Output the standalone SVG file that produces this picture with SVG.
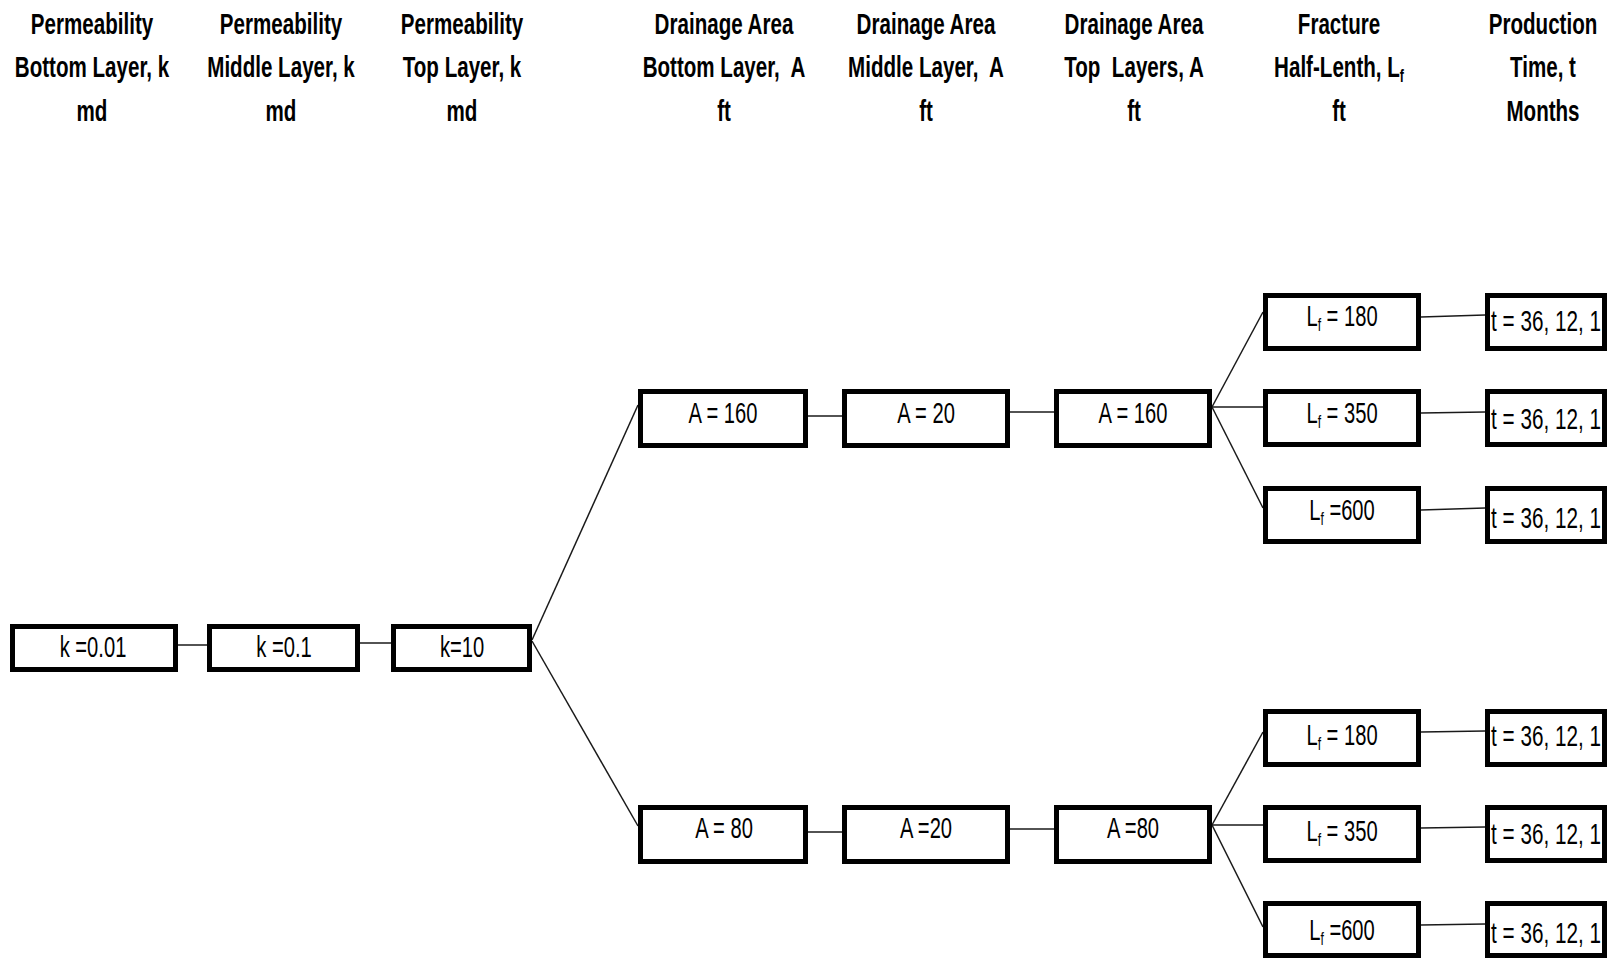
<svg xmlns="http://www.w3.org/2000/svg" width="1613" height="960" viewBox="0 0 1613 960">
<style>
.h{font-family:"Liberation Sans",Arial,sans-serif;font-weight:bold;font-size:30px;text-anchor:middle;fill:#000}
.b{font-family:"Liberation Sans",Arial,sans-serif;font-size:30px;text-anchor:middle;fill:#000}
.box{fill:#fff;stroke:#000;stroke-width:5}
.c line{stroke:#1a1a1a;stroke-width:1.5}
.sub{font-size:18px}
</style>
<rect width="1613" height="960" fill="#fff"/>
<g id="headers">
<text class="h" transform="translate(92,34) scale(0.686,1)">Permeability</text>
<text class="h" transform="translate(92,77) scale(0.686,1)">Bottom Layer, k</text>
<text class="h" transform="translate(92,121) scale(0.686,1)">md</text>
<text class="h" transform="translate(281,34) scale(0.686,1)">Permeability</text>
<text class="h" transform="translate(281,77) scale(0.686,1)">Middle Layer, k</text>
<text class="h" transform="translate(281,121) scale(0.686,1)">md</text>
<text class="h" transform="translate(462,34) scale(0.686,1)">Permeability</text>
<text class="h" transform="translate(462,77) scale(0.686,1)">Top Layer, k</text>
<text class="h" transform="translate(462,121) scale(0.686,1)">md</text>
<text class="h" transform="translate(724,34) scale(0.686,1)">Drainage Area</text>
<text class="h" transform="translate(724,77) scale(0.686,1)">Bottom Layer,&#160; A</text>
<text class="h" transform="translate(724,121) scale(0.686,1)">ft</text>
<text class="h" transform="translate(926,34) scale(0.686,1)">Drainage Area</text>
<text class="h" transform="translate(926,77) scale(0.686,1)">Middle Layer,&#160; A</text>
<text class="h" transform="translate(926,121) scale(0.686,1)">ft</text>
<text class="h" transform="translate(1134,34) scale(0.686,1)">Drainage Area</text>
<text class="h" transform="translate(1134,77) scale(0.686,1)">Top&#160; Layers, A</text>
<text class="h" transform="translate(1134,121) scale(0.686,1)">ft</text>
<text class="h" transform="translate(1339,34) scale(0.686,1)">Fracture</text>
<text class="h" transform="translate(1339,77) scale(0.686,1)">Half-Lenth, L<tspan class="sub" dy="5">f</tspan></text>
<text class="h" transform="translate(1339,121) scale(0.686,1)">ft</text>
<text class="h" transform="translate(1543,34) scale(0.686,1)">Production</text>
<text class="h" transform="translate(1543,77) scale(0.686,1)">Time, t</text>
<text class="h" transform="translate(1543,121) scale(0.686,1)">Months</text>
</g>
<g id="connectors" class="c">
<line x1="178" y1="645" x2="207" y2="645"/>
<line x1="360" y1="643" x2="391" y2="643"/>
<line x1="532" y1="640" x2="638" y2="405"/>
<line x1="532" y1="641" x2="638" y2="826"/>
<line x1="808" y1="416" x2="842" y2="416"/>
<line x1="1010" y1="412" x2="1054" y2="412"/>
<line x1="808" y1="832" x2="842" y2="832"/>
<line x1="1010" y1="829" x2="1055" y2="829"/>
<line x1="1212" y1="407" x2="1263" y2="312"/>
<line x1="1212" y1="407" x2="1263" y2="407"/>
<line x1="1212" y1="407" x2="1263" y2="508"/>
<line x1="1421" y1="317" x2="1485" y2="315"/>
<line x1="1421" y1="413" x2="1485" y2="412"/>
<line x1="1421" y1="510" x2="1485" y2="508"/>
<line x1="1212" y1="825" x2="1263" y2="732"/>
<line x1="1212" y1="825" x2="1263" y2="825"/>
<line x1="1212" y1="825" x2="1263" y2="927"/>
<line x1="1421" y1="732" x2="1485" y2="731"/>
<line x1="1421" y1="828" x2="1485" y2="827"/>
<line x1="1421" y1="925" x2="1485" y2="924"/>
</g>
<g id="k1"><rect class="box" x="12.5" y="626.5" width="163" height="43"/><text class="b" transform="translate(93,657) scale(0.672,1)">k =0.01</text></g>
<g id="k2"><rect class="box" x="209.5" y="626.5" width="148" height="43"/><text class="b" transform="translate(284,657) scale(0.672,1)">k =0.1</text></g>
<g id="k3"><rect class="box" x="393.5" y="626.5" width="136" height="43"/><text class="b" transform="translate(462,657) scale(0.672,1)">k=10</text></g>
<g id="a1u"><rect class="box" x="640.5" y="391.5" width="165" height="54"/><text class="b" transform="translate(723,423) scale(0.672,1)">A = 160</text></g>
<g id="a2u"><rect class="box" x="844.5" y="391.5" width="163" height="54"/><text class="b" transform="translate(926,423) scale(0.672,1)">A = 20</text></g>
<g id="a3u"><rect class="box" x="1056.5" y="391.5" width="153" height="54"/><text class="b" transform="translate(1133,423) scale(0.672,1)">A = 160</text></g>
<g id="a1l"><rect class="box" x="640.5" y="807.5" width="165" height="54"/><text class="b" transform="translate(724,838) scale(0.672,1)">A = 80</text></g>
<g id="a2l"><rect class="box" x="844.5" y="807.5" width="163" height="54"/><text class="b" transform="translate(926,838) scale(0.672,1)">A =20</text></g>
<g id="a3l"><rect class="box" x="1056.5" y="807.5" width="153" height="54"/><text class="b" transform="translate(1133,838) scale(0.672,1)">A =80</text></g>
<g id="lf1u"><rect class="box" x="1265.5" y="295.5" width="153" height="53"/><text class="b" transform="translate(1342,326) scale(0.672,1)">L<tspan class="sub" dy="5">f</tspan><tspan dy="-5"> = 180</tspan></text></g>
<g id="lf2u"><rect class="box" x="1265.5" y="391.5" width="153" height="53"/><text class="b" transform="translate(1342,423) scale(0.672,1)">L<tspan class="sub" dy="5">f</tspan><tspan dy="-5"> = 350</tspan></text></g>
<g id="lf3u"><rect class="box" x="1265.5" y="488.5" width="153" height="53"/><text class="b" transform="translate(1342,520) scale(0.672,1)">L<tspan class="sub" dy="5">f</tspan><tspan dy="-5"> =600</tspan></text></g>
<g id="lf1l"><rect class="box" x="1265.5" y="711.5" width="153" height="53"/><text class="b" transform="translate(1342,745) scale(0.672,1)">L<tspan class="sub" dy="5">f</tspan><tspan dy="-5"> = 180</tspan></text></g>
<g id="lf2l"><rect class="box" x="1265.5" y="807.5" width="153" height="53"/><text class="b" transform="translate(1342,841) scale(0.672,1)">L<tspan class="sub" dy="5">f</tspan><tspan dy="-5"> = 350</tspan></text></g>
<g id="lf3l"><rect class="box" x="1265.5" y="903.5" width="153" height="52"/><text class="b" transform="translate(1342,940) scale(0.672,1)">L<tspan class="sub" dy="5">f</tspan><tspan dy="-5"> =600</tspan></text></g>
<g id="t1u"><rect class="box" x="1487.5" y="295.5" width="117" height="53"/><text class="b" transform="translate(1546,331) scale(0.69,1)">t = 36, 12, 1</text></g>
<g id="t2u"><rect class="box" x="1487.5" y="391.5" width="117" height="53"/><text class="b" transform="translate(1546,429) scale(0.69,1)">t = 36, 12, 1</text></g>
<g id="t3u"><rect class="box" x="1487.5" y="488.5" width="117" height="53"/><text class="b" transform="translate(1546,528) scale(0.69,1)">t = 36, 12, 1</text></g>
<g id="t1l"><rect class="box" x="1487.5" y="711.5" width="117" height="53"/><text class="b" transform="translate(1546,746) scale(0.69,1)">t = 36, 12, 1</text></g>
<g id="t2l"><rect class="box" x="1487.5" y="807.5" width="117" height="53"/><text class="b" transform="translate(1546,844) scale(0.69,1)">t = 36, 12, 1</text></g>
<g id="t3l"><rect class="box" x="1487.5" y="903.5" width="117" height="52"/><text class="b" transform="translate(1546,943) scale(0.69,1)">t = 36, 12, 1</text></g>
</svg>
